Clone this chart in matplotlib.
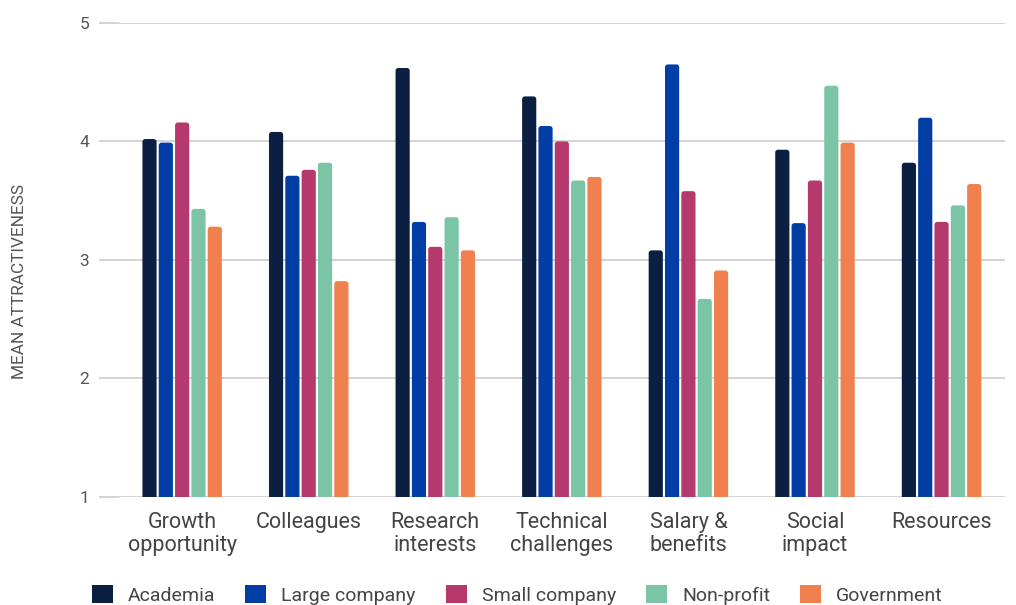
import matplotlib
matplotlib.use("Agg")
import matplotlib.pyplot as plt
from matplotlib.patches import FancyBboxPatch, Patch
import numpy as np

categories = ["Growth\nopportunity", "Colleagues", "Research\ninterests",
              "Technical\nchallenges", "Salary &\nbenefits", "Social\nimpact", "Resources"]
series_names = ["Academia", "Large company", "Small company", "Non-profit", "Government"]
academia = [4.02, 4.08, 4.62, 4.38, 3.08, 3.93, 3.82]
large_company = [3.99, 3.71, 3.32, 4.13, 4.65, 3.31, 4.20]
small_company = [4.16, 3.76, 3.11, 4.00, 3.58, 3.67, 3.32]
non_profit = [3.43, 3.82, 3.36, 3.67, 2.67, 4.47, 3.46]
government = [3.28, 2.82, 3.08, 3.70, 2.91, 3.99, 3.64]
series_values = [academia, large_company, small_company, non_profit, government]
colors = ["#0b1f43", "#003da5", "#b5396c", "#7bc5a6", "#f0804d"]
y_ticks = [1, 2, 3, 4, 5]

plt.rcParams["font.family"] = ["Roboto", "DejaVu Sans"]

fig = plt.figure(figsize=(10.16, 6.05), dpi=100)
ax = fig.add_axes([0.117, 0.179, 0.872, 0.783])

x = np.arange(len(categories))
pitch = 0.129
width = 0.112
px_x = 886 / 7.0
px_y = 473.5 / 4.0
for i, (vals, col) in enumerate(zip(series_values, colors)):
    offs = (i - 2) * pitch
    for xi, v in zip(x, vals):
        box = FancyBboxPatch((xi + offs - width / 2, 0), width, v,
                             boxstyle="round,pad=0,rounding_size=0.022",
                             mutation_aspect=px_x / px_y,
                             facecolor=col, edgecolor="none", zorder=3)
        ax.add_patch(box)

ax.set_xlim(-0.5, len(categories) - 0.5)
ax.set_ylim(1, 5)
ax.set_yticks(y_ticks)
ax.set_yticklabels([str(t) for t in y_ticks], fontsize=12.5, color="#555555")
ax.set_xticks(x)
ax.set_xticklabels(categories, fontsize=15.5, color="#444444", linespacing=1.1)
ax.tick_params(axis="x", length=0, pad=11)
ax.tick_params(axis="y", length=14.4, color="#cccccc", width=1.2, pad=7)
ax.grid(axis="y", color="#cccccc", linewidth=1.2, zorder=0)
for s in ax.spines.values():
    s.set_visible(False)

fig.text(0.0195, 0.535, "MEAN ATTRACTIVENESS", rotation=90, fontsize=12.4,
         color="#555555", ha="center", va="center")

handles = [Patch(facecolor=c, edgecolor="none") for c in colors]
fig.legend(handles, series_names, loc="center", bbox_to_anchor=(0.509, 0.017),
           ncol=5, frameon=False, fontsize=14, labelcolor="#444444",
           handlelength=1.08, handleheight=1.08, handletextpad=0.77,
           columnspacing=1.55, borderpad=0, borderaxespad=0)

fig.savefig("out.png", dpi=100, facecolor="white")
